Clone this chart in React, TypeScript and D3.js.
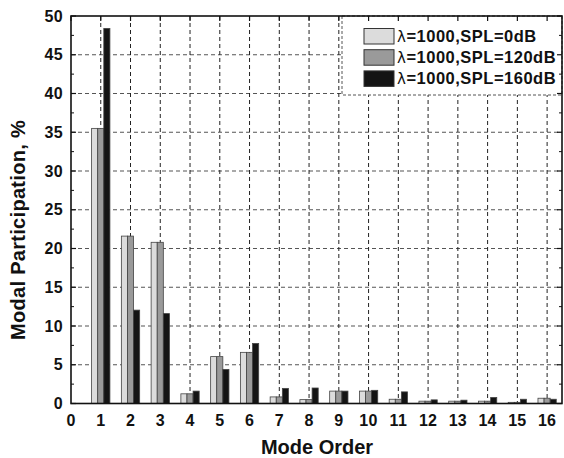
import React from "react";
import * as d3 from "d3";

const modes = [1, 2, 3, 4, 5, 6, 7, 8, 9, 10, 11, 12, 13, 14, 15, 16];
const spl0 = [35.5, 21.6, 20.8, 1.25, 6.05, 6.6, 0.85, 0.5, 1.6, 1.6, 0.55, 0.3, 0.3, 0.3, 0.15, 0.68];
const spl120 = [35.5, 21.6, 20.8, 1.25, 6.05, 6.6, 0.85, 0.5, 1.6, 1.6, 0.55, 0.3, 0.3, 0.3, 0.15, 0.68];
const spl160 = [48.4, 12.05, 11.6, 1.6, 4.4, 7.75, 1.95, 2.0, 1.6, 1.7, 1.5, 0.47, 0.43, 0.78, 0.55, 0.55];
const seriesNames = ["0dB", "120dB", "160dB"];
const seriesColors = ["#dcdcdc", "#9a9a9a", "#141414"];
const xTicks = d3.range(0, 17);
const yTicks = d3.range(0, 51, 5);
const yMinor = d3.range(2.5, 50, 5);

const W = 564, H = 458;
const L = 71, R = 562, T = 16, B = 403.5;

export default function App() {
  const x = d3.scaleLinear().domain([0, 16.5]).range([L, R]);
  const y = d3.scaleLinear().domain([0, 50]).range([B, T]);
  const series = [spl0, spl120, spl160];
  const bw = x(0.205) - x(0);
  const font = "Arial, 'Liberation Sans', Helvetica, sans-serif";
  const legX = 342, legY = T, legW = R - 342, legH = 79;
  return (
    <svg width={W} height={H} style={{ position: "absolute", left: 0, top: 0, background: "#fff" }} fontFamily={font}>
      <rect x={0} y={0} width={W} height={H} fill="#fff" />
      {/* grid */}
      {yTicks.filter(v => v > 0 && v < 50).map(v => (
        <line key={"gy" + v} x1={L} x2={R} y1={y(v)} y2={y(v)} stroke="#555" strokeWidth={1.1} strokeDasharray="4,3" />
      ))}
      {modes.map(v => (
        <line key={"gx" + v} x1={x(v)} x2={x(v)} y1={T} y2={B} stroke="#222" strokeWidth={1} strokeDasharray="4,3" />
      ))}
      {/* bars */}
      {series.map((s, si) => s.map((v, i) => (
        <rect key={`b${si}-${i}`} x={x(modes[i]) - 1.5 * bw + si * bw} y={y(v)} width={bw} height={y(0) - y(v)}
          fill={seriesColors[si]} stroke="#444" strokeWidth={0.8} />
      )))}
      {/* legend */}
      <rect x={legX} y={legY} width={legW} height={legH} fill="#fff" stroke="#555" strokeWidth={1} strokeDasharray="3,2" />
      {seriesNames.map((n, i) => (
        <g key={"lg" + i}>
          <rect x={364} y={28.5 + i * 21.2} width={30} height={15.5} fill={seriesColors[i]} stroke="#333" strokeWidth={1} />
          <text x={397} y={42 + i * 21.2} fontSize={16.5} fontWeight="bold" fill="#111" letterSpacing={0.5}>
            <tspan fontWeight="normal" fontFamily="'DejaVu Sans', sans-serif" fontSize={15}>λ</tspan>=1000,SPL={n}
          </text>
        </g>
      ))}
      {/* frame */}
      <rect x={L} y={T} width={R - L} height={B - T} fill="none" stroke="#111" strokeWidth={1.6} />
      {/* ticks */}
      {yTicks.map(v => (
        <g key={"ty" + v}>
          <line x1={L} x2={L + 5} y1={y(v)} y2={y(v)} stroke="#111" strokeWidth={1.2} />
          <line x1={R} x2={R - 5} y1={y(v)} y2={y(v)} stroke="#111" strokeWidth={1.2} />
          <text x={63} y={y(v) + 5.5} fontSize={16} fontWeight="bold" textAnchor="end" fill="#111" letterSpacing={0.3}>{v}</text>
        </g>
      ))}
      {yMinor.map(v => (
        <g key={"tm" + v}>
          <line x1={L} x2={L + 3} y1={y(v)} y2={y(v)} stroke="#111" strokeWidth={1} />
          <line x1={R} x2={R - 3} y1={y(v)} y2={y(v)} stroke="#111" strokeWidth={1} />
        </g>
      ))}
      {xTicks.map(v => (
        <g key={"tx" + v}>
          <line x1={x(v)} x2={x(v)} y1={T} y2={T + 5} stroke="#111" strokeWidth={1.2} />
          <text x={x(v)} y={425.5} fontSize={16} fontWeight="bold" textAnchor="middle" fill="#111" letterSpacing={0.3}>{v}</text>
        </g>
      ))}
      <text x={317} y={454} fontSize={20} fontWeight="bold" textAnchor="middle" fill="#111">Mode Order</text>
      <text transform={`translate(25,230) rotate(-90)`} fontSize={20} fontWeight="bold" textAnchor="middle" fill="#111" letterSpacing={0.3}>Modal Participation, %</text>
    </svg>
  );
}
